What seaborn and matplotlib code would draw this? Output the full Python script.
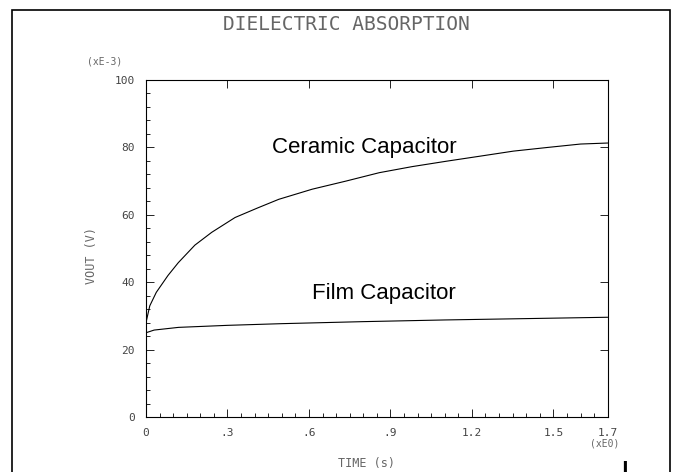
import numpy as np
import pandas as pd
import matplotlib
matplotlib.use("Agg")
import matplotlib.pyplot as plt
import seaborn as sns
from matplotlib.patches import Rectangle
from matplotlib.ticker import MultipleLocator, FixedLocator

# data (time in s, Vout in mV)
ceramic_t = [0.0, 0.014, 0.038, 0.081, 0.119, 0.18, 0.242, 0.328, 0.41, 0.489, 0.612,
             0.736, 0.859, 0.98, 1.106, 1.23, 1.353, 1.48, 1.6, 1.7]
ceramic_v = [28.0, 33.0, 37.0, 42.0, 45.8, 51.0, 54.8, 59.2, 62.0, 64.6, 67.6,
             70.0, 72.5, 74.3, 75.9, 77.4, 78.9, 80.0, 81.0, 81.3]
film_t = [0.0, 0.03, 0.12, 0.3, 0.5, 0.8, 1.1, 1.4, 1.7]
film_v = [25.0, 25.8, 26.6, 27.2, 27.7, 28.3, 28.8, 29.2, 29.6]

x_ticks = [0, 0.3, 0.6, 0.9, 1.2, 1.5, 1.7]
x_labels = ["0", ".3", ".6", ".9", "1.2", "1.5", "1.7"]
y_ticks = [0, 20, 40, 60, 80, 100]
y_labels = ["0", "20", "40", "60", "80", "100"]

sns.set_style("white")
plt.rcParams["font.family"] = ["DejaVu Sans Mono", "DejaVu Sans"]
grey = "#666666"

fig = plt.figure(figsize=(6.79, 4.72), dpi=100)
ax = fig.add_axes([0.215, 0.1165, 0.68, 0.714])

df = pd.concat([
    pd.DataFrame({"t": ceramic_t, "v": ceramic_v, "cap": "Ceramic"}),
    pd.DataFrame({"t": film_t, "v": film_v, "cap": "Film"}),
])
sns.lineplot(data=df, x="t", y="v", units="cap", estimator=None, color="black",
             lw=0.8, ax=ax, legend=False)

ax.set_xlim(0, 1.7)
ax.set_ylim(0, 100)
ax.xaxis.set_major_locator(FixedLocator(x_ticks))
ax.set_xticklabels(x_labels)
ax.yaxis.set_major_locator(FixedLocator(y_ticks))
ax.set_yticklabels(y_labels)
ax.xaxis.set_minor_locator(MultipleLocator(0.05))
ax.yaxis.set_minor_locator(MultipleLocator(4))
ax.tick_params(which="both", direction="in", bottom=True, left=True, color="black",
               labelcolor="#444444", labelsize=8, width=0.6)
ax.tick_params(which="major", length=6, pad=8, top=True, right=True)
ax.tick_params(which="minor", length=3, top=False, right=False)
for s in ax.spines.values():
    s.set_linewidth(0.8)
    s.set_color("black")
ax.set_xlabel("")
ax.set_ylabel("")

ax.text(0.464, 80.0, "Ceramic Capacitor", fontsize=16, family="Liberation Sans",
        color="black", va="center")
ax.text(0.611, 36.7, "Film Capacitor", fontsize=16, family="Liberation Sans",
        color="black", va="center")

fig.text(346 / 679, 1 - 24 / 472, "DIELECTRIC ABSORPTION", ha="center", va="center",
         fontsize=14, color=grey)
fig.text(105 / 679, 1 - 62 / 472, "(xE-3)", ha="center", va="center", fontsize=7,
         color=grey)
fig.text(605 / 679, 1 - 444 / 472, "(xE0)", ha="center", va="center", fontsize=7,
         color=grey)
fig.text(367 / 679, 1 - 463 / 472, "TIME (s)", ha="center", va="center", fontsize=8.5,
         color=grey)
fig.text(92 / 679, 1 - 255 / 472, "VOUT (V)", ha="center", va="center", fontsize=8.5,
         color=grey, rotation=90)
fig.text(626 / 679, 1 - 466 / 472, "\u258c", ha="center", va="center", fontsize=7,
         color="black")

fig.patches.append(Rectangle((12 / 679, -0.02), 658 / 679, 1 - 10 / 472 + 0.02,
                             transform=fig.transFigure, fill=False, lw=1.2,
                             edgecolor="black"))

fig.savefig("out.png", dpi=100)
